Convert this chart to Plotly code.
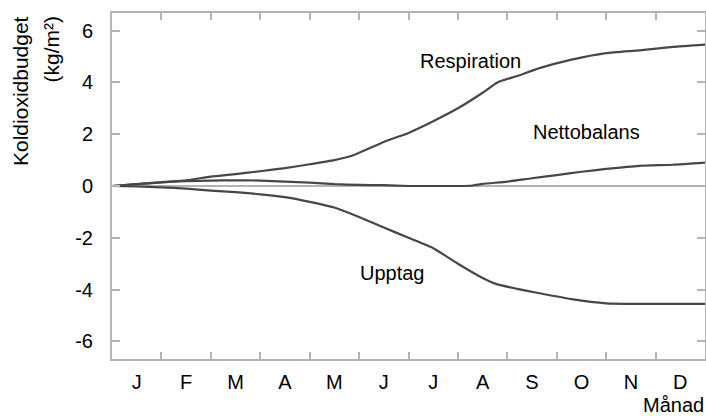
import plotly.graph_objects as go

# Data (months from 0 = start of January to 12 = end of December)
resp_x = [0, 0.5, 1, 1.5, 2, 2.5, 3, 3.5, 4, 4.5, 4.9, 5.5, 6, 6.5, 7, 7.5, 7.8, 8.2, 8.65, 9.3, 10, 10.67, 11.35, 12]
resp_y = [0, 0.07, 0.14, 0.22, 0.36, 0.46, 0.57, 0.69, 0.84, 1.0, 1.2, 1.7, 2.05, 2.5, 3.0, 3.6, 4.0, 4.25, 4.55, 4.88, 5.13, 5.24, 5.37, 5.46]

upt_x = [0, 0.5, 1, 1.5, 2, 2.5, 3, 3.5, 4, 4.5, 5, 5.5, 6, 6.5, 7, 7.5, 7.8, 8.2, 8.65, 9.3, 10, 10.67, 11.35, 12]
upt_y = [0, -0.02, -0.05, -0.1, -0.18, -0.24, -0.32, -0.43, -0.61, -0.83, -1.2, -1.6, -2.0, -2.4, -3.0, -3.55, -3.8, -3.97, -4.14, -4.37, -4.53, -4.55, -4.55, -4.55]

net_x = [0, 0.5, 1, 1.5, 2, 2.5, 3, 3.5, 4, 4.5, 5, 5.5, 6, 6.5, 7, 7.3, 7.5, 8, 8.5, 9, 9.5, 10, 10.67, 11.35, 12]
net_y = [0, 0.07, 0.15, 0.19, 0.21, 0.22, 0.21, 0.17, 0.13, 0.07, 0.04, 0.03, 0.0, 0.0, 0.0, 0.02, 0.08, 0.17, 0.3, 0.42, 0.55, 0.66, 0.78, 0.82, 0.9]

months = ["J", "F", "M", "A", "M", "J", "J", "A", "S", "O", "N", "D"]
month_centers = [0.5 + i for i in range(12)]
month_bounds = list(range(1, 12))
y_ticks = [-6, -4, -2, 0, 2, 4, 6]

FONT = "Liberation Sans, Arial, sans-serif"
LINE = "#474747"
FRAME = "#b4b4b4"

fig = go.Figure()
for xs, ys in [(resp_x, resp_y), (net_x, net_y), (upt_x, upt_y)]:
    fig.add_trace(go.Scatter(x=xs, y=ys, mode="lines",
                             line=dict(color=LINE, width=2.2, shape="spline", smoothing=0.5),
                             showlegend=False, xaxis="x", yaxis="y"))

# invisible trace for the label axis
fig.add_trace(go.Scatter(x=[0, 12], y=[0, 0], mode="lines", line=dict(width=0),
                         showlegend=False, xaxis="x2", yaxis="y", hoverinfo="skip"))

fig.update_layout(
    width=706, height=416,
    margin=dict(l=112, r=1, t=13, b=57, autoexpand=False),
    paper_bgcolor="white", plot_bgcolor="white",
    font=dict(family=FONT, size=20, color="black"),
    xaxis=dict(range=[0, 12], tickvals=month_bounds, showticklabels=False,
               ticks="inside", ticklen=7, tickwidth=2, tickcolor=FRAME,
               showline=True, linecolor=FRAME, linewidth=2, mirror="ticks",
               showgrid=False, zeroline=False, automargin=False),
    xaxis2=dict(range=[0, 12], overlaying="x", side="bottom", tickvals=month_centers,
                ticktext=months, ticks="", showline=False, showgrid=False,
                zeroline=False, ticklabelstandoff=9, tickfont=dict(size=20),
                automargin=False),
    yaxis=dict(range=[-6.68, 6.68], tickvals=y_ticks, ticktext=[str(v) for v in y_ticks],
               ticks="inside", ticklen=8, tickwidth=2, tickcolor=FRAME,
               showline=True, linecolor=FRAME, linewidth=2, mirror="ticks",
               showgrid=False, zeroline=True, zerolinecolor=FRAME, zerolinewidth=2,
               ticklabelstandoff=13, tickfont=dict(size=20), automargin=False),
)

ann = [
    dict(text="Respiration", x=7.25, y=4.83, xref="x", yref="y"),
    dict(text="Nettobalans", x=9.6, y=2.07, xref="x", yref="y"),
    dict(text="Upptag", x=5.67, y=-3.36, xref="x", yref="y"),
]
for a in ann:
    fig.add_annotation(showarrow=False, font=dict(size=20, family=FONT, color="black"),
                       xanchor="center", yanchor="middle", **a)

W = 593.0
H = 346.0
def px_x(p):
    return (p - 112) / W
def px_y(p):
    return (359 - p) / H

fig.add_annotation(text="Koldioxidbudget", textangle=-90, showarrow=False,
                   xref="paper", yref="paper", x=px_x(20), y=px_y(14),
                   xanchor="center", yanchor="top", font=dict(size=21, family=FONT))
fig.add_annotation(text="(kg/m²)", textangle=-90, showarrow=False,
                   xref="paper", yref="paper", x=px_x(51), y=px_y(14),
                   xanchor="center", yanchor="top", font=dict(size=21, family=FONT))
fig.add_annotation(text="Månad", showarrow=False, xref="paper", yref="paper",
                   x=px_x(706), y=px_y(418), xanchor="right", yanchor="bottom",
                   font=dict(size=20, family=FONT))

fig.write_html("out.html",
               post_script="document.body.style.margin='0';document.body.style.padding='0';",
               config={"displayModeBar": False})
